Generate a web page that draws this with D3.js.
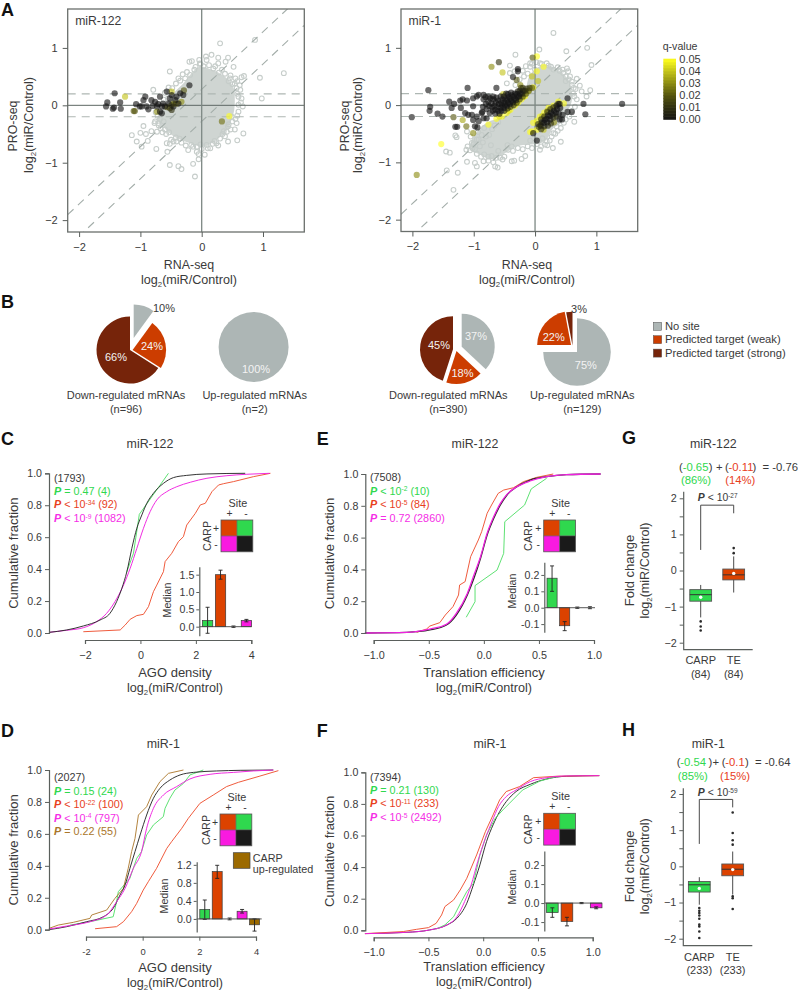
<!DOCTYPE html>
<html>
<head>
<meta charset="utf-8">
<script src="https://cdn.jsdelivr.net/npm/d3@7"></script>
<style>
  body { margin: 0; background: #fff; }
  text { font-family: "Liberation Sans", Arial, sans-serif; fill: #3a3a3a; }
</style>
</head>
<body>
<div id="chart"></div>
<script>
// ---- panel A: values, [rna, pro] or [rna, pro, q]
const a122Cloud = [[-0.68,-0.14],[-0.46,0.21],[-0.3,0.38],[-0.19,0.53],[-0.03,0.67],[0.19,0.61],[0.41,0.47],[0.52,0.3],[0.54,0.09],[0.52,-0.14],[0.41,-0.43],[0.24,-0.6],[0.03,-0.72],[-0.19,-0.66],[-0.46,-0.54],[-0.63,-0.37],[-0.73,-0.23]];
const a122Gray = [[0.3,1.08],[0.87,1.14],[1.34,0.56],[0.95,0.48],[0.98,0.12],[-0.52,0.59],[-0.2,0.76],[-0.16,0.77],[-0.04,0.79],[-0.03,0.73],[0.07,0.85],[0.16,0.88],[0.27,0.83],[0.43,0.83],[0.39,0.76],[0.52,0.67],[0.27,0.73],[0.19,0.64],[0.08,0.79],[-0.38,0.47],[-0.31,0.54],[-0.19,0.53],[-0.79,0.27],[-0.54,0.31],[0.65,0.49],[0.69,0.51],[0.46,0.47],[0.54,0.38],[0.57,0.3],[0.63,0.27],[0.65,0.12],[0.67,-0.02],[0.6,0.01],[0.6,-0.11],[-1.14,-0.52],[-0.95,-0.36],[-1.0,-0.48],[-0.91,-0.5],[-1.06,-0.63],[-0.98,-0.72],[-0.74,-0.76],[-0.73,-0.46],[-0.71,-0.31],[-0.77,-0.31],[-0.56,-0.81],[-0.52,-1.04],[-0.38,-1.06],[-0.33,-1.11],[-0.14,-1.02],[-0.11,-1.24],[-0.57,-0.66],[-0.52,-0.67],[-0.46,-0.63],[-0.41,-0.63],[-0.22,-0.78],[-0.14,-0.72],[-0.08,-0.81],[-0.05,-0.85],[0.05,-0.86],[-0.05,-0.94],[0.14,-0.75],[0.08,-0.69],[0.24,-0.66],[0.43,-0.63],[0.58,-0.61],[0.68,-0.49],[0.57,-0.31],[0.54,-0.42],[0.43,-0.37],[0.38,-0.54],[0.41,-0.46],[-0.6,0.22],[-0.48,0.3],[-0.42,0.38],[-0.35,0.43],[-0.27,0.47],[-0.12,0.62],[-0.02,0.72],[0.03,0.68],[0.12,0.7],[0.22,0.68],[0.33,0.62],[0.38,0.55],[0.47,0.52],[0.55,0.47],[0.58,0.42],[0.62,0.35],[0.58,0.2],[0.6,0.15],[0.64,0.05],[0.58,-0.18],[0.55,-0.24],[0.5,-0.28],[0.47,-0.42],[0.34,-0.5],[0.3,-0.58],[0.27,-0.7],[0.18,-0.67],[0.1,-0.75],[0,-0.76],[-0.08,-0.72],[-0.26,-0.7],[-0.33,-0.65],[-0.42,-0.56],[-0.5,-0.6],[-0.58,-0.5],[-0.64,-0.47],[-0.67,-0.4],[-0.7,-0.35],[-0.76,-0.28],[-0.72,-0.18],[-0.82,-0.45],[-0.88,-0.62],[-0.62,-0.28],[-0.68,-0.24],[-0.75,-0.12],[-0.7,0.02],[-0.55,0.12],[-0.52,0.24],[-0.62,0.1],[-0.24,0.58],[-0.1,0.67],[0.28,0.57],[0.44,0.42],[0.5,0.37],[0.49,-0.2],[0.44,-0.33],[0.36,-0.45],[0.21,-0.62],[-0.02,-0.68],[-0.17,-0.69],[-0.36,-0.58],[-0.53,-0.47],[-0.6,-0.42]];
const a122Sig = [[-1.42,0.21,0],[-1.54,0.05,0],[-1.56,-0.02,0],[-1.45,-0.06,0],[-1.43,-0.04,0],[-1.32,-0.06,0],[-1.33,0.05,0],[-1.25,0.15,0.04],[-1.11,-0.1,0.02],[-1.09,-0.1,0.02],[-1.07,0.02,0],[-1.01,-0.02,0],[-0.98,-0.02,0],[-0.95,0.09,0],[-0.92,0.15,0],[-0.9,-0.02,0],[-0.87,-0.07,0],[-0.82,0.09,0],[-0.8,-0.01,0],[-0.76,0.06,0],[-0.73,-0.02,0],[-0.71,0.02,0],[-0.68,0.15,0],[-0.65,-0.02,0],[-0.63,0.03,0],[-0.6,-0.02,0],[-0.57,0.24,0],[-0.54,0.03,0],[-0.52,0.12,0],[-0.49,0.18,0],[-0.46,-0.02,0],[-0.43,0.09,0],[-0.41,0.15,0],[-0.38,0.03,0],[-0.35,0.21,0],[-0.65,-0.14,0],[-0.68,-0.11,0],[-0.52,-0.05,0.01],[-0.49,-0.08,0.01],[-0.3,0.18,0],[-0.2,0.35,0],[-0.73,-0.11,0.03],[-0.49,0.24,0.04],[-0.41,0.03,0.03],[-0.33,0.06,0.03],[-0.29,0.26,0.02],[-0.57,-0.03,0.025],[-0.46,0.03,0.03],[-0.49,0.01,0.02],[0.33,-0.28,0.025],[0.45,-0.19,0.05]];

const a1Cloud = [[-1.03,-0.6],[-0.79,-0.31],[-0.52,-0.2],[-0.19,0.15],[-0.08,0.53],[0.14,0.7],[0.41,0.59],[0.57,0.38],[0.6,0.09],[0.57,-0.02],[0.43,-0.31],[0.3,-0.4],[0.16,-0.63],[-0.08,-0.69],[-0.3,-0.72],[-0.52,-0.86],[-0.71,-0.95],[-0.9,-0.86],[-1.06,-0.78]];
const a1Gray = [[0.3,1.26],[0.07,0.97],[-0.32,0.88],[0.51,0.94],[0.85,1.0],[0.92,0.7],[0.9,0.26],[0.84,0.15],[0.76,0.24],[0.68,0.46],[0.73,0.34],[-0.41,0.69],[-0.08,0.73],[0.08,0.73],[0.19,0.73],[0.26,0.67],[0.4,0.6],[0.52,0.64],[0.54,0.59],[0.57,0.5],[0.6,0.41],[0.63,0.3],[0.64,0.15],[0.64,-0.29],[0.42,-0.64],[0.29,-0.75],[0.08,-0.78],[0.16,-0.69],[0.19,-0.63],[0.3,-0.49],[0.35,-0.37],[0.47,-0.31],[-1.3,-0.53],[-1.28,-0.56],[-1.11,-0.46],[-1.45,-0.81],[-1.39,-0.83],[-1.44,-1.14],[-1.26,-1.18],[-1.33,-1.48],[-1.12,-0.78],[-1.06,-0.79],[-1.03,-0.66],[-0.95,-0.6],[-0.98,-0.77],[-1.11,-0.99],[-0.98,-1.01],[-0.95,-1.07],[-0.84,-0.98],[-0.76,-0.97],[-0.63,-0.92],[-0.71,-0.89],[-0.83,-0.86],[-0.65,-1.07],[-0.61,-1.09],[-0.53,-0.95],[-0.38,-0.98],[-0.34,-0.97],[-0.22,-0.94],[-0.16,-0.89],[-0.46,0.38],[-0.41,0.56],[-0.33,0.59],[-0.08,0.67],[-0.15,0.68],[-0.05,0.72],[0.02,0.75],[0.11,0.72],[0.22,0.69],[0.3,0.62],[0.37,0.66],[0.46,0.56],[0.5,0.5],[0.55,0.45],[0.6,0.35],[0.66,0.28],[0.62,0.2],[0.68,0.1],[0.65,-0.03],[0.6,-0.1],[0.56,-0.2],[0.5,-0.25],[0.42,-0.4],[0.37,-0.45],[0.33,-0.5],[0.27,-0.55],[0.24,-0.62],[0.2,-0.7],[0.1,-0.72],[0.03,-0.68],[-0.05,-0.75],[-0.12,-0.72],[-0.2,-0.77],[-0.28,-0.75],[-0.36,-0.8],[-0.44,-0.78],[-0.5,-0.9],[-0.57,-0.92],[-0.68,-1.0],[-0.76,-0.9],[-0.88,-0.9],[-0.95,-0.85],[-1.02,-0.75],[-1.1,-0.72],[-1.05,-0.55],[-0.93,-0.47],[-0.83,-0.4],[-0.7,-0.42],[-0.6,-0.3],[-0.32,0.35],[-0.25,0.45],[-0.18,0.5],[-0.12,0.55],[-0.2,0.6],[0,0.62],[0.45,0.62],[0.5,0.42],[-1,-0.68],[-0.9,-0.72],[-0.85,-0.65],[-0.8,-0.55],[-0.75,-0.52],[-0.92,-0.6],[-0.72,-0.7],[-0.6,-0.8],[-0.45,-0.7],[-0.38,-0.72],[-0.87,-0.52],[-0.66,-0.36],[-0.08,-0.62],[0.06,-0.62],[0.12,-0.58]];
const a1Sig = [[-1.74,0.26,0],[-2.01,-0.21,0],[-1.71,-0.03,0],[-1.72,-0.1,0],[-1.59,-0.15,0],[-1.51,-0.2,0],[-1.4,0.06,0],[-1.36,-0.05,0],[-1.32,0.02,0],[-1.22,0.08,0],[-1.21,-0.05,0],[-1.18,0.1,0],[-1.11,0.08,0],[-1.14,-0.14,0],[-1.09,-0.17,0],[-1.1,0.3,0],[-1.33,-0.21,0.02],[-1.3,-0.38,0],[-1.27,-0.38,0],[-1.18,-0.26,0.035],[-1.12,-0.37,0.025],[-1.01,-0.49,0.03],[-1.01,0.12,0],[-0.95,0.15,0],[-0.92,0.18,0],[-0.84,0.18,0],[-0.76,0.15,0],[-0.68,0.15,0],[-0.63,0.3,0],[-1.01,-0.02,0],[-1.03,-0.17,0],[-1.01,-0.26,0],[-0.95,-0.2,0],[-0.92,-0.28,0],[-0.98,-0.37,0],[-0.94,-0.39,0],[-0.87,-0.14,0],[-0.84,-0.23,0],[-0.79,-0.23,0],[-1.53,-0.68,0.05],[-1.93,-1.22,0.03],[-0.71,0.67,0.03],[-0.59,0.75,0.01],[-0.53,0.57,0.04],[-0.28,0.63,0],[-0.28,0.59,0],[-0.36,0.49,0],[-0.3,0.44,0.02],[-0.04,0.83,0.02],[0.03,0.85,0.05],[0.14,0.67,0.05],[0.03,0.59,0.05],[-0.05,0.5,0.04],[0.05,0.42,0.04],[1.42,0.02,0],[0.79,0.02,0],[0.82,-0.16,0],[0.53,0.12,0],[0.6,-0.12,0],[0.53,-0.12,0],[0.03,-0.62,0],[-0.03,-0.49,0],[-0.08,-0.47,0.05],
  // yellow rim of the upper band
  [-0.76,-0.34,0.05],[-0.63,-0.24,0.05],[-0.54,-0.2,0.05],[-0.46,-0.14,0.05],[-0.4,-0.08,0.05],[-0.33,-0.01,0.05],[-0.27,0.05,0.05],[-0.22,0.1,0.05],[-0.16,0.16,0.05],[-0.11,0.24,0.05],[-0.03,0.31,0.05],[-0.52,0.19,0.04],[-0.24,0.35,0.03],[-0.58,-0.2,0.045],[-0.43,-0.1,0.045],[-0.3,0.03,0.045],[-0.19,0.14,0.045],
  // dark upper band
  [-0.85,-0.03,0],[-0.84,0.1,0],[-0.86,-0.12,0],[-0.8,0.02,0],[-0.79,-0.07,0],[-0.81,0.14,0],[-0.75,-0.02,0],[-0.76,0.06,0],[-0.74,-0.14,0],[-0.73,0.12,0],[-0.7,-0.04,0],[-0.71,0.03,0],[-0.69,-0.1,0],[-0.68,0.1,0],[-0.65,-0.08,0],[-0.66,-0.01,0],[-0.64,0.05,0],[-0.65,-0.15,0],[-0.63,0.13,0],[-0.6,-0.1,0],[-0.61,-0.04,0],[-0.59,0.02,0],[-0.6,0.08,0],[-0.58,-0.15,0],[-0.55,-0.1,0],[-0.56,-0.05,0],[-0.54,0,0],[-0.55,0.05,0],[-0.53,0.1,0],[-0.56,0.15,0],[-0.5,-0.1,0.005],[-0.51,-0.05,0],[-0.49,0,0],[-0.5,0.05,0],[-0.48,0.1,0],[-0.51,0.15,0],[-0.47,0.2,0],[-0.45,-0.06,0.005],[-0.46,-0.01,0],[-0.44,0.04,0],[-0.45,0.09,0],[-0.43,0.14,0],[-0.44,0.19,0],[-0.4,-0.03,0.01],[-0.41,0.02,0],[-0.39,0.07,0],[-0.4,0.12,0],[-0.38,0.17,0],[-0.39,0.22,0],[-0.35,0,0.01],[-0.36,0.05,0],[-0.34,0.1,0],[-0.35,0.15,0],[-0.33,0.2,0],[-0.3,0.04,0.012],[-0.31,0.09,0],[-0.29,0.14,0],[-0.3,0.19,0],[-0.28,0.24,0.005],[-0.25,0.1,0.012],[-0.26,0.15,0],[-0.24,0.2,0],[-0.25,0.25,0.005],[-0.23,0.3,0.015],[-0.2,0.15,0.015],[-0.21,0.2,0.005],[-0.19,0.25,0.005],[-0.2,0.3,0.012],[-0.15,0.2,0.015],[-0.16,0.25,0.01],[-0.14,0.29,0.012],[-0.1,0.25,0.018],[-0.09,0.3,0.015],[-0.05,0.3,0.02],
  // yellow rim of the lower band
  [-0.03,-0.31,0.05],[0.03,-0.27,0.05],[0.08,-0.2,0.05],[0.15,-0.13,0.05],[0.22,-0.05,0.05],[0.3,-0.01,0.05],[0.38,0.06,0.05],[0.47,0.03,0.05],[-0.05,-0.46,0.05],[0.03,-0.43,0.05],[0.14,-0.43,0.04],[0.08,-0.34,0.045],[0.12,-0.19,0.04],[0.2,-0.1,0.04],
  // dark lower band
  [0.05,-0.33,0.01],[0.06,-0.38,0.01],[0.1,-0.25,0.01],[0.11,-0.3,0.005],[0.09,-0.36,0.005],[0.1,-0.42,0.01],[0.15,-0.2,0.01],[0.16,-0.26,0],[0.14,-0.31,0],[0.15,-0.37,0.005],[0.2,-0.12,0.01],[0.21,-0.18,0],[0.19,-0.24,0],[0.2,-0.3,0],[0.21,-0.36,0.01],[0.25,-0.07,0.01],[0.26,-0.13,0],[0.24,-0.19,0],[0.25,-0.25,0],[0.26,-0.32,0.01],[0.3,-0.04,0.01],[0.31,-0.1,0],[0.29,-0.16,0],[0.3,-0.22,0.01],[0.31,-0.3,0.03],[0.35,-0.01,0],[0.36,-0.07,0],[0.34,-0.13,0],[0.35,-0.2,0.01],[0.4,0.02,0],[0.41,-0.05,0],[0.39,-0.15,0],[0.4,-0.25,0],[0.45,-0.17,0],[0.44,-0.25,0],[0.38,0.02,0]];

const axisA = [-2, -1, 0, 1];
const dashOffsets = [0.28, -0.28];
const dashLevels = [0.2, -0.2];
const qTicks = [0, 0.01, 0.02, 0.03, 0.04, 0.05];

// ---- panel B
const pieKeys = ["No site", "Predicted target (weak)", "Predicted target (strong)"];
const pie122Down = [10, 24, 66];
const pie122Up = [100, 0, 0];
const pie1Down = [37, 18, 45];
const pie1Up = [75, 22, 3];

// ---- panels C-F: ECDF curves, [log2 ratio, cumulative fraction]
const cBlack = [[-3.3,0.004],[-2.66,0.019],[-2.06,0.044],[-1.46,0.081],[-1.1,0.123],[-0.86,0.196],[-0.67,0.28],[-0.49,0.384],[-0.31,0.53],[-0.13,0.656],[0.05,0.739],[0.23,0.812],[0.47,0.875],[0.83,0.937],[1.19,0.973],[1.67,0.987],[2.4,0.996],[3.78,1]];
const cGreen = [[-0.5,0.38],[-0.25,0.5],[-0.04,0.743],[1.01,1]];
const cMagenta = [[-3.3,0.004],[-2.66,0.017],[-2.06,0.033],[-1.58,0.071],[-1.22,0.123],[-0.92,0.196],[-0.61,0.3],[-0.37,0.405],[-0.13,0.53],[0.11,0.656],[0.35,0.76],[0.59,0.833],[0.95,0.885],[1.31,0.916],[1.8,0.944],[2.4,0.969],[3.12,0.985],[3.84,0.994],[4.66,1]];
const cRed = [[-2.06,0.008],[-0.73,0.019],[-0.55,0.05],[-0.37,0.086],[-0.13,0.109],[0.11,0.117],[0.29,0.165],[0.47,0.259],[0.59,0.3],[0.83,0.384],[0.89,0.447],[1.13,0.499],[1.37,0.572],[1.55,0.603],[1.67,0.676],[1.98,0.749],[2.16,0.802],[2.34,0.812],[2.58,0.885],[2.82,0.927],[3,0.935],[3.36,0.948],[4.08,0.979],[4.69,1]];

const dBlack = [[-3.31,0],[-2.68,0.019],[-1.98,0.05],[-1.39,0.081],[-1.04,0.134],[-0.8,0.217],[-0.62,0.28],[-0.45,0.384],[-0.27,0.489],[-0.09,0.593],[0.14,0.718],[0.38,0.823],[0.61,0.885],[0.96,0.937],[1.32,0.969],[1.79,0.985],[2.61,0.994],[3.44,0.998],[4.61,1]];
const dGreen = [[-2.56,0.029],[-1.86,0.05],[-1.04,0.081],[-0.92,0.175],[-0.86,0.238],[-0.45,0.322],[-0.21,0.447],[-0.04,0.489],[0.14,0.593],[0.38,0.656],[0.73,0.708],[0.79,0.76],[0.96,0.823],[1.14,0.875],[1.44,0.916],[1.67,0.969],[2.14,1]];
const dRed = [[-1.68,0.006],[-0.92,0.019],[-0.68,0.05],[-0.39,0.113],[-0.21,0.165],[0.02,0.248],[0.2,0.301],[0.49,0.384],[0.85,0.509],[1.02,0.551],[1.38,0.635],[1.61,0.697],[2.02,0.791],[2.49,0.843],[2.96,0.896],[3.38,0.923],[4.14,0.962],[4.79,0.996]];
const dMagenta = [[-3.31,0.004],[-2.68,0.023],[-1.86,0.05],[-1.27,0.092],[-0.92,0.175],[-0.62,0.259],[-0.33,0.384],[-0.04,0.489],[0.14,0.635],[0.38,0.76],[0.73,0.843],[1.2,0.896],[1.67,0.944],[2.38,0.973],[3.2,0.985],[3.91,0.994],[4.61,1]];
const dBrown = [[-3.31,0.008],[-2.98,0.029],[-2.45,0.046],[-1.86,0.071],[-1.8,0.092],[-1.27,0.123],[-0.98,0.196],[-0.68,0.259],[-0.51,0.384],[-0.39,0.489],[-0.27,0.572],[-0.15,0.718],[0.14,0.77],[0.32,0.843],[0.61,0.927],[0.91,0.979],[1.44,1]];

const eBlack = [[-1.08,0],[-0.7,0.004],[-0.49,0.019],[-0.34,0.05],[-0.25,0.113],[-0.15,0.239],[-0.09,0.344],[-0.03,0.47],[0.03,0.616],[0.09,0.721],[0.15,0.805],[0.21,0.868],[0.3,0.92],[0.42,0.962],[0.57,0.983],[0.75,0.996],[1.06,1]];
const eMagenta = [[-1.08,0],[-0.7,0.004],[-0.49,0.025],[-0.34,0.055],[-0.25,0.124],[-0.15,0.249],[-0.09,0.365],[-0.03,0.48],[0.03,0.627],[0.09,0.732],[0.15,0.815],[0.21,0.872],[0.3,0.92],[0.42,0.956],[0.57,0.983],[0.75,0.996],[1.06,1]];
const eGreen = [[-0.16,0.099],[-0.08,0.197],[-0.08,0.298],[0.12,0.396],[0.18,0.501],[0.19,0.7],[0.37,0.805],[0.43,0.906],[0.57,0.973]];
const eRed = [[-0.61,0.004],[-0.52,0.025],[-0.49,0.044],[-0.4,0.065],[-0.35,0.113],[-0.28,0.166],[-0.23,0.239],[-0.22,0.302],[-0.17,0.323],[-0.12,0.48],[-0.05,0.585],[-0.02,0.637],[0.03,0.753],[0.07,0.805],[0.13,0.878],[0.18,0.899],[0.27,0.914],[0.36,0.952],[0.48,0.979],[0.63,1]];

const fBlack = [[-1.08,-0.021],[-0.7,-0.013],[-0.49,0.002],[-0.33,0.034],[-0.24,0.076],[-0.15,0.171],[-0.09,0.287],[-0.03,0.414],[0.03,0.561],[0.09,0.667],[0.15,0.751],[0.21,0.814],[0.3,0.878],[0.43,0.924],[0.58,0.958],[0.76,0.975],[1.06,0.979]];
const fGreen = [[-0.43,0.008],[-0.35,0.034],[-0.27,0.086],[-0.2,0.181],[-0.15,0.245],[-0.09,0.297],[-0.03,0.477],[0.03,0.603],[0.11,0.709],[0.18,0.762],[0.24,0.804],[0.36,0.888],[0.52,0.945],[0.67,0.973]];
const fRed = [[-1.08,-0.021],[-0.73,-0.008],[-0.61,0.006],[-0.5,0.017],[-0.43,0.044],[-0.38,0.097],[-0.35,0.15],[-0.27,0.192],[-0.21,0.255],[-0.15,0.329],[-0.06,0.477],[0.02,0.624],[0.09,0.73],[0.15,0.825],[0.21,0.878],[0.33,0.909],[0.46,0.966],[0.67,0.975],[1.06,0.979]];
const fMagenta = [[-1.08,-0.021],[-0.7,-0.013],[-0.49,0.002],[-0.33,0.034],[-0.24,0.086],[-0.17,0.181],[-0.11,0.287],[-0.05,0.435],[0.02,0.582],[0.08,0.688],[0.14,0.783],[0.21,0.846],[0.3,0.888],[0.43,0.941],[0.58,0.966],[0.76,0.977],[1.06,0.979]];

const fracTicks = [0, 0.2, 0.4, 0.6, 0.8, 1];
const agoTicks = [-2, 0, 2, 4];
const teTicks = [-1, -0.5, 0, 0.5, 1];

// inset medians: green, orange, black, magenta (brown in D)
const cMedian = [0.18, 1.5, 0, 0.18];
const cErr = [[-0.19,0.56],[1.37,1.63],[-0.02,0.02],[0.14,0.21]];
const dMedian = [0.21, 1.05, 0, 0.17, -0.13];
const dErr = [[-0.01,0.42],[0.9,1.19],[-0.02,0.02],[0.13,0.21],[-0.27,0]];
const eMedian = [0.18, -0.11, 0, 0];
const eErr = [[0.1,0.255],[-0.14,-0.085],[-0.004,0.004],[-0.006,0.006]];
const fMedian = [-0.05, -0.097, 0, -0.025];
const fErr = [[-0.075,-0.025],[-0.12,-0.075],[-0.003,0.003],[-0.03,-0.02]];

// ---- panels G-H: [whisker low, q1, median, q3, whisker high, mean]
const gStats = [[-1.3,-0.85,-0.67,-0.53,-0.4,-0.74],[-0.61,-0.26,-0.12,0.04,0.39,-0.08]];
const gOutliers = [[-1.41,-1.55,-1.66],[0.48,0.62]];
const hStats = [[-1.06,-0.71,-0.51,-0.42,-0.3,-0.61],[-0.78,-0.26,-0.08,0.065,0.41,-0.09]];
const hOutliers = [[-1.15,-1.23,-1.29,-1.36,-1.45,-1.61,-1.66,-1.8,-1.98],[0.6,0.72,0.92,1.49,-0.83,-0.88,-1.18]];
const boxNames = ["CARP", "TE"];
const foldTicks = [-2, -1.5, -1, -0.5, 0, 0.5, 1, 1.5, 2];

const green = "#2fd84e", orange = "#dc4200", magenta = "#f91ae0", nearBlack = "#1a1a1a", brown = "#9c6a00";
const insetColors = [green, orange, nearBlack, magenta, brown];
const textGreen = "#2fd84e", textRed = "#e8401c", textMagenta = "#f52ee6", textBrown = "#a9762a";
const lineRed = "#ee5233", lineGreen = "#55df6b", lineMagenta = "#ef22df", lineBrown = "#b07d35", lineBlack = "#2a2a2a";

const svg = d3.select("#chart").append("svg").attr("width", 798).attr("height", 993).style("display", "block");
const defs = svg.append("defs");

// text made of pieces: {t, sub, sup, b, i, c}
function richText(x, y, parts, o) {
  o = o || {};
  var text = svg.append("text").attr("font-size", o.size || 10.8).attr("text-anchor", o.anchor || "start");
  if (o.rotate) text.attr("transform", `translate(${x},${y}) rotate(-90)`);
  else text.attr("x", x).attr("y", y);
  var shift = 0;
  parts.forEach((p) => {
    var s = text.append("tspan").text(p.t);
    var target = p.sub ? 3 : p.sup ? -3.5 : 0;
    if (target !== shift) s.attr("dy", target - shift);
    shift = target;
    if (p.sub || p.sup) s.attr("font-size", (o.size || 10.8) * 0.62);
    if (p.b) s.attr("font-weight", "bold");
    if (p.i) s.attr("font-style", "italic");
    if (p.c) s.style("fill", p.c);
    else if (o.color) s.style("fill", o.color);
  });
  return text;
}

function plain(x, y, str, o) {
  return richText(x, y, [{ t: str }], o);
}

function logLabel(x, y, o) {
  return richText(x, y, [{ t: "log" }, { t: "2", sub: 1 }, { t: "(miR/Control)" }],
    Object.assign({ anchor: "middle", size: 12.6 }, o));
}

function pLine(x, y, color, rest, sup, tail) {
  var parts = [{ t: "P", b: 1, i: 1 }, { t: " " + rest }];
  if (sup) parts.push({ t: sup, sup: 1 });
  if (tail) parts.push({ t: tail });
  richText(x, y, parts, { color: color, size: 10.8 });
}

function styleAxis(g, size) {
  g.select(".domain").attr("stroke", "#5a5f5c").attr("stroke-width", 1.2);
  g.selectAll(".tick line").attr("stroke", "#5a5f5c").attr("stroke-width", 1);
  g.selectAll(".tick text").attr("font-size", size || 11).style("fill", "#3a3a3a")
    .attr("font-family", '"Liberation Sans", Arial, sans-serif');
}

function panelLetter(x, y, s) {
  svg.append("text").attr("x", x).attr("y", y).attr("font-size", 18).attr("font-weight", "bold").style("fill", "#111").text(s);
}

const qColor = d3.scaleLinear().domain([0, 0.01, 0.02, 0.03, 0.04, 0.05])
  .range(["#141414", "#303010", "#55550f", "#8c8c12", "#c4c41a", "#ffff1e"]);

// ---- A: scatter
function scatter(o) {
  var x = d3.scaleLinear().domain([-2.186, 1.674]).range(o.xr);
  var y = d3.scaleLinear().domain([-2.207, 1.678]).range(o.yr);
  var g = svg.append("g");
  defs.append("clipPath").attr("id", o.id).append("rect")
    .attr("x", o.xr[0]).attr("y", o.yr[1]).attr("width", o.xr[1] - o.xr[0]).attr("height", o.yr[0] - o.yr[1]);
  var inner = g.append("g").attr("clip-path", `url(#${o.id})`);

  inner.append("path").datum(o.cloud)
    .attr("d", d3.line().x((d) => x(d[0])).y((d) => y(d[1])).curve(d3.curveCatmullRomClosed))
    .attr("fill", "#cfd5d2");
  inner.selectAll(".gray").data(o.gray).enter().append("circle").attr("class", "gray")
    .attr("cx", (d) => x(d[0])).attr("cy", (d) => y(d[1])).attr("r", 2.4)
    .attr("fill", "none").attr("stroke", "#c6cdca").attr("stroke-width", 1.1);

  dashLevels.forEach((lev) => {
    inner.append("line").attr("x1", x.range()[0]).attr("x2", x.range()[1]).attr("y1", y(lev)).attr("y2", y(lev))
      .attr("stroke", "#aeb7b3").attr("stroke-width", 1.1).attr("stroke-dasharray", "8,6");
  });
  dashOffsets.forEach((off) => {
    var xs = x.domain();
    inner.append("line").attr("x1", x(xs[0])).attr("x2", x(xs[1])).attr("y1", y(xs[0] + off)).attr("y2", y(xs[1] + off))
      .attr("stroke", "#a3ada9").attr("stroke-width", 1.1).attr("stroke-dasharray", "8,6");
  });
  inner.append("line").attr("x1", x.range()[0]).attr("x2", x.range()[1]).attr("y1", y(0)).attr("y2", y(0))
    .attr("stroke", "#5e6864").attr("stroke-width", 1);
  inner.append("line").attr("x1", x(0)).attr("x2", x(0)).attr("y1", y.range()[0]).attr("y2", y.range()[1])
    .attr("stroke", "#7d8884").attr("stroke-width", 1.3);

  var sig = o.sig.slice().sort((a, b) => b[2] - a[2]);
  inner.selectAll(".sig").data(sig).enter().append("circle").attr("class", "sig")
    .attr("cx", (d) => x(d[0])).attr("cy", (d) => y(d[1])).attr("r", 3.1)
    .attr("fill", (d) => qColor(d[2])).attr("fill-opacity", 0.62);

  g.append("rect").attr("x", o.xr[0]).attr("y", o.yr[1]).attr("width", o.xr[1] - o.xr[0]).attr("height", o.yr[0] - o.yr[1])
    .attr("fill", "none").attr("stroke", "#6a6f6c").attr("stroke-width", 1.3);

  var fmt = (d) => (d < 0 ? "\u2212" + Math.abs(d) : d);
  var ax = g.append("g").attr("transform", `translate(0,${o.yr[0]})`)
    .call(d3.axisBottom(x).tickValues(axisA).tickSize(5).tickPadding(6).tickFormat(fmt));
  ax.select(".domain").remove();
  styleAxis(ax);
  var ay = g.append("g").attr("transform", `translate(${o.xr[0]},0)`)
    .call(d3.axisLeft(y).tickValues(axisA).tickSize(5).tickPadding(5).tickFormat(fmt));
  ay.select(".domain").remove();
  styleAxis(ay);

  plain(o.xr[0] + 7.5, 25, o.title, { size: 12.2 });
  plain(o.labelX, 269, "RNA-seq", { anchor: "middle", size: 12.4 });
  logLabel(o.labelX, 284);
  plain(o.yLabelX[0], 126, "PRO-seq", { anchor: "middle", size: 12.4, rotate: true });
  logLabel(o.yLabelX[1], 125, { rotate: true });
}

scatter({ id: "clipA1", xr: [67.7, 304.3], yr: [232, 9], title: "miR-122", cloud: a122Cloud, gray: a122Gray, sig: a122Sig, labelX: 189, yLabelX: [17, 33] });
scatter({ id: "clipA2", xr: [401, 637.7], yr: [231.5, 9], title: "miR-1", cloud: a1Cloud, gray: a1Gray, sig: a1Sig, labelX: 527, yLabelX: [349, 362] });

// q-value colour key
plain(662.7, 50, "q-value", { size: 10.6 });
var qy = d3.scaleLinear().domain([0, 0.05]).range([119.5, 59]);
var qSteps = d3.range(0, 0.05, 0.0025);
svg.selectAll(".qstep").data(qSteps).enter().append("rect").attr("class", "qstep")
  .attr("x", 663.3).attr("width", 12.7).attr("y", (d) => qy(d + 0.0025) - 0.3).attr("height", qy(0) - qy(0.0025) + 0.6)
  .attr("fill", (d) => qColor(d + 0.00125));
svg.selectAll(".qtick").data(qTicks).enter().append("text").attr("class", "qtick")
  .attr("x", 679.3).attr("y", (d) => qy(d)).attr("dy", "0.36em").attr("font-size", 11)
  .text((d) => d.toFixed(2));

// ---- B: pies
const pieColors = ["#adb6b5", "#cc3d00", "#76240a"];
function pieChart(values, R, centers) {
  var slices = d3.pie().sort(null)(values);
  var arc = d3.arc().innerRadius(0).outerRadius(R);
  slices.forEach((s, i) => {
    if (!values[i]) return;
    var c = centers[i];
    svg.append("path").attr("d", arc(s)).attr("transform", `translate(${c[0]},${c[1]})`).attr("fill", pieColors[i]);
  });
}
pieChart(pie122Down, 33.5, [[133.7, 338], [132.6, 350], [130, 350]]);
pieChart(pie122Up, 35, [[253.6, 347]]);
pieChart(pie1Down, 33, [[461.7, 346.7], [456.5, 351], [453, 349.3]]);
pieChart(pie1Up, 33.8, [[577, 352], [571, 345], [572.5, 345.5]]);

function pieLabel(x, y, v, white) {
  plain(x, y, v + "%", { anchor: "middle", size: 11, color: white ? "#f3f3f3" : "#3a3a3a" }).attr("dominant-baseline", "middle");
}
pieLabel(164, 309, pie122Down[0]); pieLabel(152, 347, pie122Down[1], 1); pieLabel(116, 358, pie122Down[2], 1);
pieLabel(256, 370, pie122Up[0], 1);
pieLabel(476, 337, pie1Down[0], 1); pieLabel(462.5, 373.5, pie1Down[1], 1); pieLabel(439, 346, pie1Down[2], 1);
pieLabel(585.8, 365.5, pie1Up[0], 1); pieLabel(553.7, 338, pie1Up[1], 1); pieLabel(579, 310, pie1Up[2]);

[["Down-regulated mRNAs", "(n=96)", 126], ["Up-regulated mRNAs", "(n=2)", 254.7],
 ["Down-regulated mRNAs", "(n=390)", 448.3], ["Up-regulated mRNAs", "(n=129)", 582.3]].forEach((c) => {
  plain(c[2], 399, c[0], { anchor: "middle", size: 11 });
  plain(c[2], 412.5, c[1], { anchor: "middle", size: 11 });
});

pieKeys.forEach((k, i) => {
  var y0 = 322.3 + i * 13.4;
  svg.append("rect").attr("x", 653.3).attr("y", y0).attr("width", 8.4).attr("height", 8).attr("fill", pieColors[i]).attr("stroke", "#555").attr("stroke-width", 0.5);
  plain(665, y0 + 7.7, k, { size: 11.2 });
});

// ---- C-F: ECDF panels
const lineSmooth = d3.line().curve(d3.curveMonotoneX);
const lineRaw = d3.line();

function cdfPanel(o) {
  var x = d3.scaleLinear().domain(o.xd).range(o.xr);
  var y = d3.scaleLinear().domain([0, 1]).range(o.yr);
  var g = svg.append("g");
  o.curves.forEach((c) => {
    var gen = c.smooth ? lineSmooth : lineRaw;
    gen.x((d) => x(d[0])).y((d) => y(d[1]));
    g.append("path").attr("d", gen(c.pts)).attr("fill", "none").attr("stroke", c.color).attr("stroke-width", c.w || 0.95);
  });
  var ay = g.append("g").attr("transform", `translate(${o.axisX},0)`)
    .call(d3.axisLeft(y).tickValues(fracTicks).tickSize(4).tickPadding(3).tickFormat(d3.format(".1f")));
  styleAxis(ay, 10.6);
  var ax = g.append("g").attr("transform", `translate(0,${o.axisY})`)
    .call(d3.axisBottom(x).tickValues(o.xTicks).tickSize(4).tickPadding(o.xPad || 7).tickFormat(o.xFmt));
  styleAxis(ax, o.xSize || 10.8);

  plain(o.titleX, o.titleY, o.title, { anchor: "middle", size: 12.4 });
  plain(o.axisX - 31.5, (o.yr[0] + o.yr[1]) / 2, "Cumulative fraction", { anchor: "middle", size: 13, rotate: true });
  plain(o.labX, o.labY[0], o.xLabel, { anchor: "middle", size: 13 });
  logLabel(o.labX, o.labY[1]);
}

const minusFmt = (d) => (d < 0 ? "\u2212" + Math.abs(d) : d);
const minus1Fmt = (d) => (d < 0 ? "\u2212" + Math.abs(d).toFixed(1) : d.toFixed(1));

cdfPanel({ xd: [-2, 4], xr: [85, 251.3], yr: [633, 473.3], axisX: 49, axisY: 640, xTicks: agoTicks, xFmt: minusFmt,
  title: "miR-122", titleX: 150, titleY: 448, xLabel: "AGO density", labX: 175, labY: [676.7, 691.7],
  curves: [{ pts: cRed, color: lineRed }, { pts: cGreen, color: lineGreen }, { pts: cMagenta, color: lineMagenta, smooth: 1 }, { pts: cBlack, color: lineBlack, smooth: 1 }] });
cdfPanel({ xd: [-2, 4], xr: [86, 256], yr: [929.7, 770], axisX: 49, axisY: 936.7, xTicks: agoTicks, xFmt: (d) => d, xSize: 9.4, xPad: 8,
  title: "miR-1", titleX: 163.3, titleY: 748.3, xLabel: "AGO density", labX: 175, labY: [971.7, 986.7],
  curves: [{ pts: dRed, color: lineRed }, { pts: dGreen, color: lineGreen }, { pts: dBrown, color: lineBrown }, { pts: dBlack, color: lineBlack, smooth: 1 }, { pts: dMagenta, color: lineMagenta, smooth: 1 }] });
cdfPanel({ xd: [-1, 1], xr: [373.7, 594], yr: [633, 474], axisX: 365.3, axisY: 640, xTicks: teTicks, xFmt: minus1Fmt,
  title: "miR-122", titleX: 475, titleY: 448, xLabel: "Translation efficiency", labX: 484, labY: [676.7, 691.7],
  curves: [{ pts: eRed, color: lineRed }, { pts: eGreen, color: lineGreen }, { pts: eBlack, color: lineBlack, smooth: 1, w: 1.3 }, { pts: eMagenta, color: lineMagenta, smooth: 1, w: 1.3 }] });
cdfPanel({ xd: [-1, 1], xr: [373.7, 592.7], yr: [930.3, 772.3], axisX: 365.3, axisY: 937.3, xTicks: teTicks, xFmt: minus1Fmt,
  title: "miR-1", titleX: 490, titleY: 748, xLabel: "Translation efficiency", labX: 484, labY: [970.7, 986],
  curves: [{ pts: fBlack, color: lineBlack, smooth: 1 }, { pts: fGreen, color: lineGreen }, { pts: fRed, color: lineRed }, { pts: fMagenta, color: lineMagenta, smooth: 1 }] });

// legends beside the curves
plain(54, 481.7, "(1793)");
pLine(54, 494.7, textGreen, "= 0.47 (4)");
pLine(54, 508, textRed, "< 10", "-34", " (92)");
pLine(54, 522, textMagenta, "< 10", "-9", " (1082)");

plain(54, 780.7, "(2027)");
pLine(54, 795, textGreen, "= 0.15 (24)");
pLine(54, 808.3, textRed, "< 10", "-22", " (100)");
pLine(54, 821.7, textMagenta, "< 10", "-4", " (797)");
pLine(54, 835, textBrown, "= 0.22 (55)");

plain(370, 481, "(7508)");
pLine(370, 494.7, textGreen, "< 10", "-2", " (10)");
pLine(370, 508, textRed, "< 10", "-5", " (84)");
pLine(370, 522, textMagenta, "= 0.72 (2860)");

plain(370, 781, "(7394)");
pLine(370, 794.3, textGreen, "= 0.21 (130)");
pLine(370, 807.3, textRed, "< 10", "-11", " (233)");
pLine(370, 821, textMagenta, "< 10", "-5", " (2492)");

// site / CARP key
function siteKey(x0, y0, carpX, plusX) {
  var s = 15.9;
  [[0, 0, orange], [1, 0, green], [0, 1, magenta], [1, 1, nearBlack]].forEach((c) => {
    svg.append("rect").attr("x", x0 + c[0] * s).attr("y", y0 + c[1] * s).attr("width", s).attr("height", s).attr("fill", c[2]);
  });
  svg.append("rect").attr("x", x0).attr("y", y0).attr("width", s * 2).attr("height", s * 2).attr("fill", "none").attr("stroke", "#555").attr("stroke-width", 0.8);
  svg.append("line").attr("x1", x0 + s).attr("x2", x0 + s).attr("y1", y0).attr("y2", y0 + s * 2).attr("stroke", "#555").attr("stroke-width", 0.6);
  svg.append("line").attr("x1", x0).attr("x2", x0 + s * 2).attr("y1", y0 + s).attr("y2", y0 + s).attr("stroke", "#555").attr("stroke-width", 0.6);
  plain(x0 + s + 1, y0 - 13, "Site", { anchor: "middle", size: 10.8 });
  plain(x0 + 8.5, y0 - 3, "+", { anchor: "middle", size: 10.4 });
  plain(x0 + 25, y0 - 3, "-", { anchor: "middle", size: 10.4 });
  plain(carpX, y0 + s, "CARP", { anchor: "middle", size: 10.8, rotate: true });
  plain(plusX, y0 + 11.5, "+", { anchor: "middle", size: 10.4 });
  plain(plusX, y0 + 27.5, "-", { anchor: "middle", size: 10.4 });
}
siteKey(221, 520, 210.5, 216);
siteKey(220, 814, 209.5, 215);
siteKey(543.7, 520, 532, 538.3);
siteKey(543.7, 813.3, 532, 538.3);

// inset median bars
function inset(o) {
  var idx = d3.range(o.values.length);
  var x = d3.scaleBand().domain(idx).range(o.xr).paddingInner(o.pad);
  var y = d3.scaleLinear().domain(o.yd).range(o.yr);
  var g = svg.append("g");
  g.selectAll("rect").data(o.values).enter().append("rect")
    .attr("x", (d, i) => x(i)).attr("width", x.bandwidth())
    .attr("y", (d) => Math.min(y(d), y(0))).attr("height", (d) => Math.abs(y(d) - y(0)))
    .attr("fill", (d, i) => insetColors[i]).attr("stroke", "#3a3a3a").attr("stroke-width", 0.7);
  g.selectAll(".err").data(o.err).enter().append("path").attr("class", "err")
    .attr("d", (d, i) => {
      var c = x(i) + x.bandwidth() / 2;
      return `M${c - 2},${y(d[0])}H${c + 2}M${c},${y(d[0])}V${y(d[1])}M${c - 2},${y(d[1])}H${c + 2}`;
    })
    .attr("fill", "none").attr("stroke", "#222").attr("stroke-width", 0.9);
  g.append("line").attr("x1", o.axisX).attr("x2", o.baseEnd).attr("y1", y(0)).attr("y2", y(0)).attr("stroke", "#444").attr("stroke-width", 0.9);
  var ay = g.append("g").attr("transform", `translate(${o.axisX},0)`)
    .call(d3.axisLeft(y).tickValues(o.ticks).tickSize(3).tickPadding(2).tickSizeOuter(0).tickFormat(d3.format(o.fmt)));
  styleAxis(ay, 10.6);
  ay.selectAll(".tick text").text((d) => (d < 0 ? "-" + Math.abs(d).toFixed(1) : d.toFixed(1)));
  plain(o.axisX - 28.5, o.labY, "Median", { anchor: "middle", size: 10.6, rotate: true });
}
inset({ values: cMedian, err: cErr, xr: [202.4, 251.6], pad: 0.2, yd: [-0.26, 1.73], yr: [635.7, 566.7], axisX: 199.3, baseEnd: 251.6, ticks: [0, 0.5, 1, 1.5], fmt: ".1f", labY: 600 });
inset({ values: dMedian, err: dErr, xr: [199.8, 259.5], pad: 0.2, yd: [-0.29, 1.27], yr: [932, 861.7], axisX: 196.7, baseEnd: 261.7, ticks: [0, 0.4, 0.8, 1.2], fmt: ".1f", labY: 896 });
inset({ values: eMedian, err: eErr, xr: [547, 595], pad: 0.2, yd: [-0.15, 0.277], yr: [632.3, 562.3], axisX: 544.3, baseEnd: 595, ticks: [-0.1, 0, 0.1, 0.2], fmt: ".1f", labY: 591 });
inset({ values: fMedian, err: fErr, xr: [546.5, 602], pad: 0.2, yd: [-0.147, 0.274], yr: [931, 851], axisX: 544.3, baseEnd: 602, ticks: [-0.1, 0, 0.1, 0.2], fmt: ".1f", labY: 887 });

// CARP up-regulated key, panel D
svg.append("rect").attr("x", 233.3).attr("y", 852.7).attr("width", 16.7).attr("height", 15.6).attr("fill", brown).attr("stroke", "#444").attr("stroke-width", 0.7);
plain(252.7, 861.7, "CARP", { size: 10.8 });
plain(252.7, 873, "up-regulated", { size: 10.8 });

// ---- G-H: box plots
function boxPanel(o) {
  var y = d3.scaleLinear().domain([-2, 2]).range(o.yr);
  var x = d3.scalePoint().domain(boxNames).range(o.centers);
  var g = svg.append("g");
  var ay = g.append("g").attr("transform", `translate(${o.axisX},0)`)
    .call(d3.axisLeft(y).tickValues(foldTicks).tickSize(4).tickPadding(3).tickFormat((d) => (d % 1 ? "" : minusFmt(d))));
  ay.select(".domain").remove();
  styleAxis(ay, 10.8);
  g.append("path").attr("d", `M${o.axisX},${o.axisTop}V${o.axisBot}H${o.axisX + 69}`).attr("fill", "none").attr("stroke", "#5a5f5c").attr("stroke-width", 1.2);

  boxNames.forEach((name, i) => {
    var s = o.stats[i], c = x(name), w = 10.9;
    g.append("line").attr("x1", c).attr("x2", c).attr("y1", y(s[0])).attr("y2", y(s[4])).attr("stroke", "#4a4a4a").attr("stroke-width", 1);
    g.append("rect").attr("x", c - w).attr("width", 2 * w).attr("y", y(s[3])).attr("height", y(s[1]) - y(s[3]))
      .attr("fill", i ? orange : green).attr("stroke", "#555").attr("stroke-width", 0.9);
    g.append("line").attr("x1", c - w).attr("x2", c + w).attr("y1", y(s[2])).attr("y2", y(s[2])).attr("stroke", "#333").attr("stroke-width", 1);
    g.append("circle").attr("cx", c).attr("cy", y(s[5])).attr("r", 1.7).attr("fill", "#fff");
    g.selectAll(".out" + i).data(o.outliers[i]).enter().append("circle").attr("class", "out" + i)
      .attr("cx", c).attr("cy", (d) => y(d)).attr("r", 1.3).attr("fill", "#2a2a2a");
    plain(c, o.catY[0], name, { anchor: "middle", size: 11 });
    plain(c, o.catY[1], o.n, { anchor: "middle", size: 11 });
  });
  var b = o.bracket;
  g.append("path").attr("d", `M${x("CARP")},${y(b[0])}V${y(b[1])}H${x("TE")}V${y(b[2])}`).attr("fill", "none").attr("stroke", "#4a4a4a").attr("stroke-width", 1);
  richText(o.pX, o.pY, [{ t: "P", b: 1, i: 1 }, { t: " < 10" }, { t: o.exp, sup: 1 }], { anchor: "middle", size: 10.4 });
  plain(o.titleX, o.titleY, o.title, { anchor: "middle", size: 12.4 });
  plain(o.axisX - 49.7, (o.yr[0] + o.yr[1]) / 2, "Fold change", { anchor: "middle", size: 13, rotate: true });
  logLabel(o.axisX - 34.5, (o.yr[0] + o.yr[1]) / 2, { rotate: true });
}
boxPanel({ yr: [642.7, 498.3], centers: [700.7, 733.7], axisX: 683.7, axisTop: 491.7, axisBot: 649.7, stats: gStats, outliers: gOutliers, n: "(84)", catY: [664, 678.3], bracket: [0.57, 1.81, 1.585], pX: 717.7, pY: 501, exp: "-27", title: "miR-122", titleX: 713.3, titleY: 448.3 });
boxPanel({ yr: [938.7, 794], centers: [699.3, 732.7], axisX: 683.3, axisTop: 788.3, axisBot: 945.7, stats: hStats, outliers: hOutliers, n: "(233)", catY: [960.7, 974.3], bracket: [0.62, 1.85, 1.63], pX: 717.7, pY: 796, exp: "-59", title: "miR-1", titleX: 708.3, titleY: 747.7 });

function formula(y, xs, a, b, total) {
  plain(xs[0], y, "(", { size: 11.3 });
  plain(xs[1], y, a, { size: 11.3, color: textGreen });
  plain(xs[2], y, ")", { size: 11.3 });
  plain(xs[3], y, "+", { size: 11.3 });
  plain(xs[4], y, "(", { size: 11.3 });
  plain(xs[5], y, b, { size: 11.3, color: textRed });
  plain(xs[6], y, ")", { size: 11.3 });
  plain(xs[7], y, "= " + total, { size: 11.3 });
}
formula(470.7, [679, 682.7, 708.8, 716, 725, 728.5, 752.5, 762.5], "-0.65", "-0.11", "-0.76");
plain(696, 484.3, "(86%)", { anchor: "middle", size: 11.3, color: textGreen });
plain(740.3, 484.3, "(14%)", { anchor: "middle", size: 11.3, color: textRed });
formula(766, [676.7, 680.3, 708.6, 712.5, 721.7, 725.3, 745, 755], "-0.54", "-0.1", "-0.64");
plain(692.7, 780, "(85%)", { anchor: "middle", size: 11.3, color: textGreen });
plain(735, 780, "(15%)", { anchor: "middle", size: 11.3, color: textRed });

// ---- panel letters
panelLetter(1, 16, "A");
panelLetter(1, 308, "B");
panelLetter(1, 445, "C");
panelLetter(1, 737, "D");
panelLetter(316.7, 445, "E");
panelLetter(316.7, 737, "F");
panelLetter(622, 444, "G");
panelLetter(622, 736, "H");
</script>
</body>
</html>
